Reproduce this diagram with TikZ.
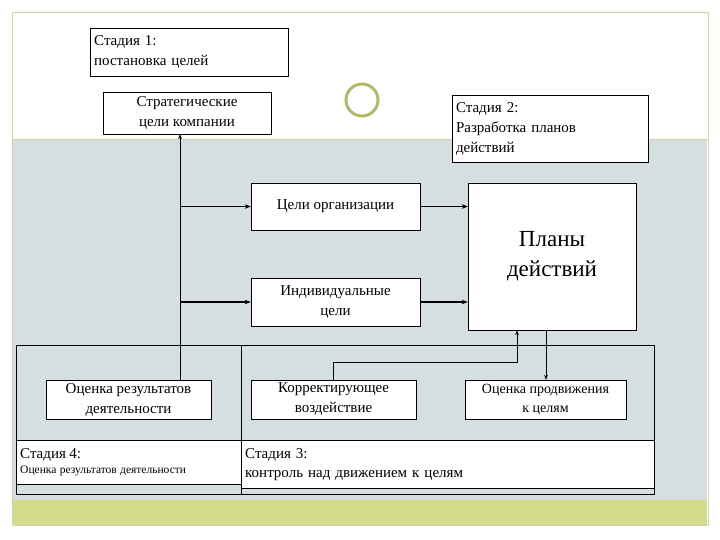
\documentclass[tikz,border=0pt]{standalone}
\usepackage{fontspec}
\setmainfont{Liberation Serif}
\usetikzlibrary{arrows.meta}
\definecolor{bgblue}{HTML}{D5DFE2}
\definecolor{bandg}{HTML}{D4DC8C}
\definecolor{olive}{HTML}{B5B86A}
\begin{document}
\begin{tikzpicture}[x=1pt,y=-1pt,
 box/.style={draw,fill=white,inner sep=0pt,align=center,font=\fontsize{15}{20}\selectfont},
 arr/.style={-{Stealth[length=6pt]},line width=1.6pt},
 thin arr/.style={-{Stealth[length=5pt]}}]
\useasboundingbox (0,0) rectangle (720,540);
\fill[white] (0,0) rectangle (720,540);
\draw[olive!60] (12,12) rectangle (708,525);
\fill[bgblue] (13,140) rectangle (707,500);
\fill[bandg] (13,500) rectangle (707,525);
\draw[olive!60] (12,139) -- (708,139);
\fill[white] (362,100) circle (22);
\draw[olive,line width=3pt,fill=white] (362,100) circle (16);
% boxes
\node[box,minimum width=198,minimum height=48,align=left,anchor=north west,text width=190] (s1) at (90,28) {Стадия 1:\\постановка целей};
\node[box,minimum width=168,minimum height=42] (strat) at (187,113) {Стратегические\\цели компании};
\node[box,minimum width=196,minimum height=67,align=left,text width=188] (s2) at (550,128.5) {Стадия 2:\\Разработка планов\\действий};
\node[box,minimum width=169,minimum height=47] (org) at (335.5,206.5) {Цели организации};
\node[box,minimum width=169,minimum height=48] (ind) at (335.5,302) {Индивидуальные\\цели};
\node[box,minimum width=168,minimum height=147,font=\fontsize{23}{30}\selectfont] (plans) at (552,256.5) {Планы\\действий};
\draw (16,345) rectangle (241,494);
\draw (241,345) rectangle (654,494);
\node[draw,fill=white,minimum width=225,minimum height=44,inner sep=4pt,anchor=north west,text width=217,align=left] (s4) at (16,440) {\fontsize{15}{18}\selectfont Стадия 4:\\[3pt]\fontsize{11.5}{13}\selectfont Оценка результатов деятельности};
\node[draw,fill=white,minimum width=413,minimum height=48,inner sep=4pt,anchor=north west,text width=405,align=left,font=\fontsize{15}{19}\selectfont] (s3) at (241,440) {Стадия 3:\\контроль над движением к целям};
\node[box,minimum width=165,minimum height=39] (ocr) at (128.5,399.5) {Оценка результатов\\деятельности};
\node[box,minimum width=165,minimum height=39] (kor) at (333.5,399.5) {Корректирующее\\воздействие};
\node[box,minimum width=161,minimum height=39,font=\fontsize{14}{19}\selectfont] (ocp) at (545.5,399.5) {Оценка продвижения\\к целям};
% connectors
\coordinate (v) at (180,206.5);
\coordinate (w) at (180,302);
\draw[thin arr] (ocr.north -| 180,0) -- (strat.south -| 180,0);
\draw[arr] (v) -- (org.west);
\draw[arr] (w) -- (ind.west);
\draw[arr] (org.east) -- (plans.west |- org.east);
\draw[arr] (ind.east) -- (plans.west |- ind.east);
\draw[thin arr] (kor.north) |- (517,362) -- (plans.south -| 517,0);
\draw[thin arr] (plans.south -| 546,0) -- (ocp.north -| 546,0);
\end{tikzpicture}
\end{document}
